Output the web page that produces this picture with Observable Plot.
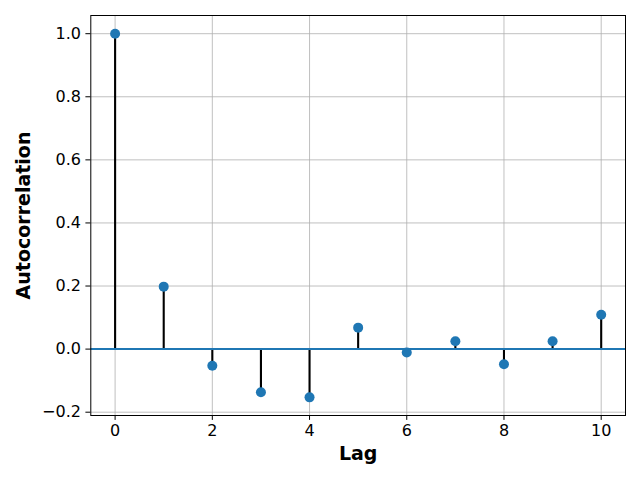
<!DOCTYPE html>
<html><head><meta charset="utf-8">
<script src="https://cdn.jsdelivr.net/npm/d3@7"></script>
<script src="https://cdn.jsdelivr.net/npm/@observablehq/plot@0.6"></script>
<style>body{margin:0;background:#fff}</style>
</head><body><div id="chart"></div>
<script>
const lags = [0, 1, 2, 3, 4, 5, 6, 7, 8, 9, 10];
const acf = [1.0, 0.198, -0.053, -0.137, -0.153, 0.068, -0.011, 0.025, -0.048, 0.025, 0.109];
const xTicks = [0, 2, 4, 6, 8, 10];
const yTicks = [-0.2, 0.0, 0.2, 0.4, 0.6, 0.8, 1.0];
const xLabel = "Lag";
const yLabel = "Autocorrelation";

const data = lags.map((lag, i) => ({lag, value: acf[i]}));
const blue = "#1f77b4";

const chart = Plot.plot({
  width: 640, height: 480,
  marginLeft: 90.3, marginTop: 15, marginRight: 15, marginBottom: 65,
  style: {fontFamily: "DejaVu Sans", fontSize: "16px", color: "#000", background: "#fff", overflow: "visible"},
  x: {domain: [-0.5, 10.5]},
  y: {domain: [-0.2105, 1.0577]},
  marks: [
    Plot.gridX(xTicks, {stroke: "#b0b0b0", strokeOpacity: 1, strokeWidth: 0.8}),
    Plot.gridY(yTicks, {stroke: "#b0b0b0", strokeOpacity: 1, strokeWidth: 0.8}),
    Plot.ruleX(data, {x: "lag", y1: 0, y2: "value", stroke: "#000", strokeWidth: 2.1}),
    Plot.ruleY([0], {stroke: blue, strokeWidth: 2}),
    Plot.dot(data, {x: "lag", y: "value", r: 5, fill: blue, stroke: "none"}),
    Plot.frame({stroke: "#000", strokeWidth: 1}),
    Plot.axisX(xTicks, {tickSize: 4.9, tickPadding: 4, label: null, tickFormat: d3.format("d"), fontSize: 16}),
    Plot.axisY(yTicks, {tickSize: 4.9, tickPadding: 5, label: null, tickFormat: d3.format(".1f"), fontSize: 16}),
    Plot.text([xLabel], {frameAnchor: "bottom", dy: 44, fontWeight: "bold", fontSize: 19, textAnchor: "middle"}),
    Plot.text([yLabel], {frameAnchor: "left", dx: -67, rotate: -90, fontWeight: "bold", fontSize: 19, textAnchor: "middle"})
  ]
});
document.getElementById("chart").append(chart);
</script>
</body></html>
